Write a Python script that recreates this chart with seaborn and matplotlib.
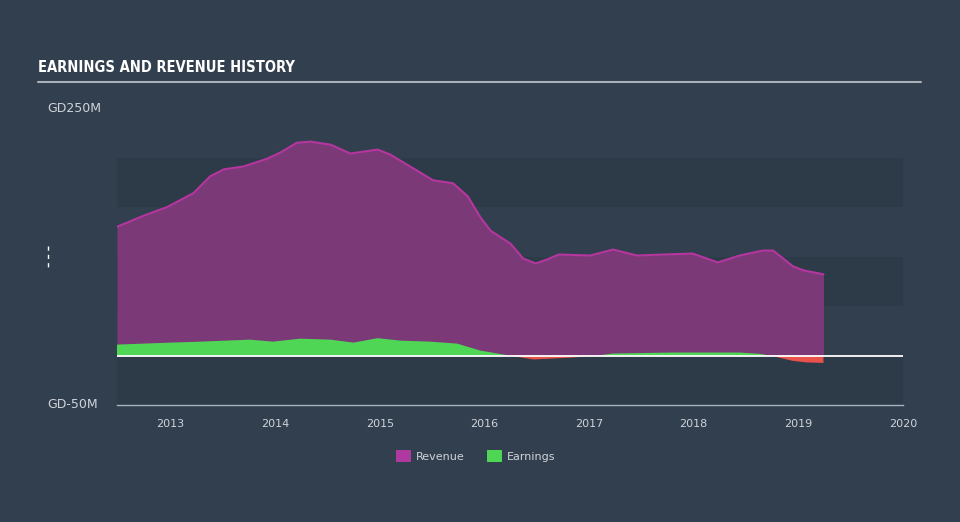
import numpy as np
import pandas as pd
import matplotlib
matplotlib.use("Agg")
import matplotlib.pyplot as plt
from matplotlib.lines import Line2D
from matplotlib.patches import Patch
import seaborn as sns

# ---- data (values in millions) ----
rev_years = [2012.49, 2012.74, 2012.97, 2013.22, 2013.38, 2013.51, 2013.70, 2013.93,
             2014.05, 2014.21, 2014.34, 2014.53, 2014.72, 2014.98, 2015.10, 2015.29,
             2015.51, 2015.70, 2015.84, 2015.96, 2016.06, 2016.25, 2016.37, 2016.49,
             2016.60, 2016.71, 2017.01, 2017.23, 2017.46, 2017.71, 2017.99, 2018.23,
             2018.44, 2018.66, 2018.76, 2018.95, 2019.05, 2019.24]
revenue = [130, 141, 150, 164, 181, 188, 191, 199,
           205, 215, 216, 213, 204, 208, 203, 191,
           177, 174, 161, 140, 126, 113, 98, 93,
           97, 102, 101, 107, 101, 102, 103, 94,
           101, 106, 106, 90, 86, 82]

earn_years = [2012.49, 2012.74, 2013.00, 2013.29, 2013.76, 2013.98, 2014.24, 2014.53,
              2014.75, 2014.98, 2015.20, 2015.48, 2015.74, 2015.96, 2016.18, 2016.47,
              2016.85, 2017.08, 2017.23, 2017.80, 2018.44, 2018.63, 2018.76, 2018.95,
              2019.08, 2019.24]
earnings = [11, 12, 13, 14, 16, 14, 17, 16,
            13, 17.5, 15, 14, 12, 5, 1, -4,
            -2, 0, 2, 3, 3, 1.7, -0.7, -5.5,
            -7, -7.5]

x_ticks = [2013, 2014, 2015, 2016, 2017, 2018, 2019, 2020]
y_labels = ["GD250M", "GD-50M"]
title = "EARNINGS AND REVENUE HISTORY"
legend_labels = ["Revenue", "Earnings"]

# ---- style ----
BG = "#323f4e"
BAND = "#2d3a47"
TXT = "#cfd4da"
REV_FILL = "#7b3a77"
REV_LINE = "#b4369e"
REV_LEG = "#b0399f"
GREEN = "#4fd655"
RED = "#e8524a"

sns.set_theme(style="white")
plt.rcParams["font.family"] = ["DejaVu Sans"]

fig = plt.figure(figsize=(9.6, 5.22), dpi=100, facecolor=BG)
W, H = 960, 522
ax = fig.add_axes([117 / W, (H - 405) / H, (903 - 117) / W, (405 - 108) / H])
ax.set_facecolor(BG)

ax.set_xlim(2012.49, 2020)
ax.set_ylim(-50, 250)

for lo, hi in [(-50, 0), (50, 100), (150, 200)]:
    ax.axhspan(lo, hi, color=BAND, lw=0, zorder=0)

rev_df = pd.DataFrame({"year": rev_years, "revenue": revenue})
earn_df = pd.DataFrame({"year": earn_years, "earnings": earnings})

ax.fill_between(rev_df["year"], 0, rev_df["revenue"], color=REV_FILL, lw=0, zorder=2)
sns.lineplot(data=rev_df, x="year", y="revenue", ax=ax, color=REV_LINE, lw=1.5, zorder=3)

e = earn_df["earnings"].to_numpy()
ax.fill_between(earn_df["year"], 0, e, where=e >= 0, interpolate=True, color=GREEN, lw=0, zorder=4)
ax.fill_between(earn_df["year"], 0, e, where=e <= 0, interpolate=True, color=RED, lw=0, zorder=4)

ax.axhline(0, color="white", lw=1.3, zorder=5)

for s in ["top", "right", "left"]:
    ax.spines[s].set_visible(False)
ax.spines["bottom"].set_color("#aab4c0")
ax.spines["bottom"].set_linewidth(1)
ax.set_yticks([])
ax.set_xticks(x_ticks)
ax.set_xticklabels([str(t) for t in x_ticks])
ax.tick_params(axis="x", colors="#aab4c0", length=7, width=1, direction="out",
               labelsize=8, labelcolor=TXT, pad=3)
ax.set_xlabel("")
ax.set_ylabel("")

# y labels
fig.text(47 / W, 1 - 108 / H, y_labels[0], color=TXT, fontsize=9, ha="left", va="center")
fig.text(47 / W, 1 - 405 / H, y_labels[1], color=TXT, fontsize=9, ha="left", va="center")

# small dashed mark
fig.add_artist(Line2D([48 / W, 48 / W], [1 - 246 / H, 1 - 270 / H], color="white",
                      lw=1, linestyle=(0, (3, 3)), transform=fig.transFigure))

# title and underline
fig.text(38 / W, 1 - 68 / H, title, color="white", fontsize=10.5, fontweight="bold",
         family=["Liberation Sans Narrow", "DejaVu Sans"], fontstretch="condensed",
         ha="left", va="center")
fig.add_artist(Line2D([38 / W, 921 / W], [1 - 82 / H, 1 - 82 / H], color="#a8b0b8",
                      lw=1.5, transform=fig.transFigure))

# legend
handles = [Patch(facecolor=REV_LEG, edgecolor="none"), Patch(facecolor=GREEN, edgecolor="none")]
leg = fig.legend(handles, legend_labels, loc="center", bbox_to_anchor=(476 / W, 1 - 456 / H),
                 ncol=2, frameon=False, fontsize=8, handlelength=1.3, handleheight=1.3,
                 handletextpad=0.5, columnspacing=2.0)
for t in leg.get_texts():
    t.set_color(TXT)

fig.savefig("out.png", dpi=100, facecolor=BG)
